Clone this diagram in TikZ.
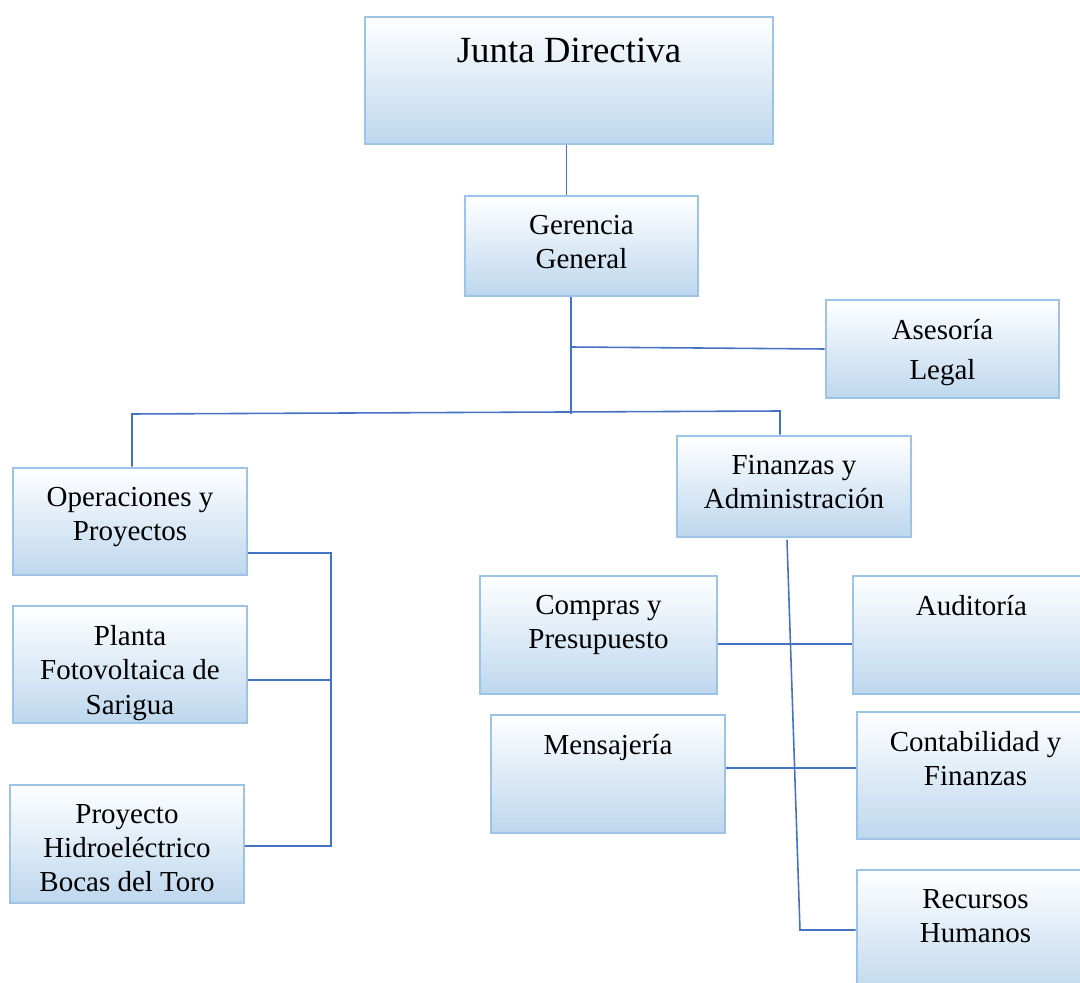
\documentclass[tikz,border=0pt]{standalone}
\usepackage{fontspec}
\setmainfont{Liberation Serif}
\usetikzlibrary{positioning}
\definecolor{bordeazul}{RGB}{157,195,230}
\definecolor{fondoazul}{RGB}{189,215,238}
\definecolor{lineaazul}{RGB}{68,114,196}
\tikzset{
	unidad/.style = {draw=bordeazul, line width=1.6pt, top color=white, bottom color=fondoazul, inner sep=0pt},
	rotulo/.style = {align=center, inner sep=0pt, font=\fontsize{16.5}{19.5}\selectfont},
	enlace/.style = {draw=lineaazul, line width=0.9pt}
}
\begin{document}
\begin{tikzpicture}[x=0.02cm, y=-0.02cm]
	\useasboundingbox (0,0) rectangle (1080,983);
	\clip (0,0) rectangle (1080,983);
	\node[unidad, minimum width=8.16cm, minimum height=2.54cm] (junta) at (569,80.5) {};
	\node[rotulo, font=\fontsize{21}{25}\selectfont, below=0.44cm of junta.north] (junta-t) {Junta Directiva};
	\foreach \nm/\cx/\cy/\w/\h/\txt in {gerencia/581.5/246/233/100/Gerencia\\General,
		asesoria/942.5/349/233/98/Asesoría\\[3.4pt]Legal,
		operaciones/130/521.5/234/107/Operaciones y\\Proyectos,
		planta/130/664.5/234/117/Planta\\Fotovoltaica de\\Sarigua,
		proyecto/127/844/234/118/Proyecto\\Hidroeléctrico\\Bocas del Toro,
		finanzas/794/486.5/234/101/Finanzas y\\Administración,
		compras/598.5/635/237/118/Compras y\\Presupuesto,
		auditoria/971.5/635/237/118/Auditoría,
		mensajeria/608/774/234/118/Mensajería,
		contabilidad/975.5/775.5/237/127/Contabilidad y\\Finanzas,
		recursos/975.5/933.5/237/127/Recursos\\Humanos} {
		\pgfmathsetmacro{\ancho}{\w*0.02};
		\pgfmathsetmacro{\alto}{\h*0.02};
		\node[unidad, minimum width=\ancho cm, minimum height=\alto cm] (\nm) at (\cx,\cy) {};
		\node[rotulo, below=0.41cm of \nm.north] (\nm-t) {\txt};
	}
	\coordinate (bajada) at (566.5,170);
	\coordinate (nudo1) at (571,347);
	\coordinate (nudo2) at (571,414);
	\coordinate (izq) at (132,414);
	\coordinate (der) at (780,411);
	\coordinate (bus1) at (331,553);
	\coordinate (bus2) at (331,680);
	\coordinate (bus3) at (331,846);
	\coordinate (fin1) at (787,540);
	\coordinate (fin2) at (800,930);
	\draw[enlace] (junta.south -| bajada) -- (gerencia.north -| bajada);
	\draw[enlace] (gerencia.south -| nudo1) -- (nudo2);
	\draw[enlace] (nudo1) -- (asesoria.west);
	\draw[enlace] (izq |- operaciones.north) -- (izq) -- (der) -- (der |- finanzas.north);
	\draw[enlace] (bus1 -| operaciones.east) -- (bus1) -- (bus3) -- (bus3 -| proyecto.east);
	\draw[enlace] (bus2 -| planta.east) -- (bus2);
	\draw[enlace] (fin1) -- (fin2) -- (fin2 -| recursos.west);
	\draw[enlace] ([yshift=-0.18cm]compras.east) -- ([yshift=-0.18cm]compras.east -| auditoria.west);
	\draw[enlace] ([yshift=0.12cm]mensajeria.east) -- ([yshift=0.12cm]mensajeria.east -| contabilidad.west);
\end{tikzpicture}
\end{document}
